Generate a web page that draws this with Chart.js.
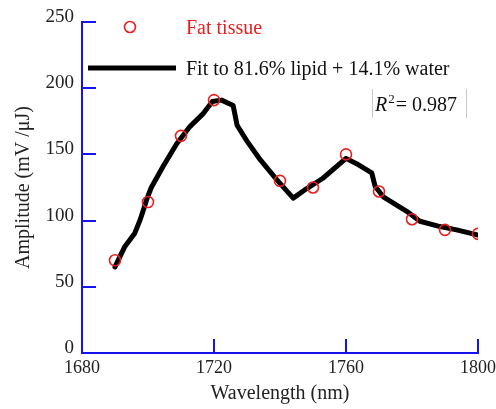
<!DOCTYPE html>
<html>
<head>
<meta charset="utf-8">
<script src="https://cdn.jsdelivr.net/npm/chart.js@4.4.1/dist/chart.umd.min.js"></script>
<style>
  html, body { margin: 0; padding: 0; background: #fff; }
  #wrap { width: 496px; height: 409px; }
</style>
</head>
<body>
<div id="wrap"><canvas id="c" width="496" height="409"></canvas></div>
<script>
// ---- data ----
const fatWavelengths = [1690, 1700, 1710, 1720, 1740, 1750, 1760, 1770, 1780, 1790, 1800];
const fatAmplitudes  = [70, 114, 164, 191, 130, 125, 150, 122, 101, 93, 90];

const fitWavelengths = [1690, 1693, 1696, 1697.6, 1698.6, 1699.6, 1701, 1704.6, 1708.7, 1712.7, 1716.8, 1719.5, 1722.3, 1725.8, 1727, 1730, 1734, 1739, 1744, 1748, 1753, 1760, 1763.2, 1767.8, 1768.8, 1771.3, 1778.4, 1782.4, 1788.5, 1793.5, 1800];
const fitAmplitudes  = [65, 80.5, 90.5, 100.5, 108, 116, 125, 141, 158, 171, 181, 190, 191, 187, 172, 160, 146, 131, 117, 124, 132, 147, 143, 136, 126, 118, 107, 99.5, 95.5, 93, 89];

const xTickValues = [1680, 1720, 1760, 1800];
const yTickValues = [0, 50, 100, 150, 200, 250];

const seriesLabels = ['Fat tissue', 'Fit to 81.6% lipid + 14.1% water'];
const xTitle = 'Wavelength (nm)';
const yTitle = 'Amplitude (mV /\u03BCJ)';
const r2Value = '0.987';

// ---- styling ----
const AXIS_BLUE = 'rgb(20,20,235)';
const SERIF = '"Liberation Serif", "Times New Roman", serif';

const toPoints = (xs, ys) => xs.map((x, i) => ({ x: x, y: ys[i] }));

const inwardTicks = {
  id: 'inwardTicks',
  afterDatasetsDraw(chart) {
    const { ctx, chartArea, scales } = chart;
    ctx.save();
    ctx.strokeStyle = AXIS_BLUE;
    ctx.lineWidth = 2;
    ctx.beginPath();
    yTickValues.forEach(v => {
      if (v === 0) return;
      const y = Math.round(scales.y.getPixelForValue(v));
      ctx.moveTo(chartArea.left, y);
      ctx.lineTo(chartArea.left + 14, y);
    });
    xTickValues.forEach(v => {
      if (v === xTickValues[0]) return;
      const x = Math.round(scales.x.getPixelForValue(v));
      ctx.moveTo(x, chartArea.bottom);
      ctx.lineTo(x, chartArea.bottom - 14);
    });
    ctx.stroke();
    ctx.restore();
  }
};

const customLegend = {
  id: 'customLegend',
  afterDraw(chart) {
    const { ctx } = chart;
    const ds = chart.data.datasets;
    ctx.save();
    // entry 1: red open circle
    ctx.strokeStyle = ds[0].borderColor;
    ctx.lineWidth = 1.6;
    ctx.beginPath();
    ctx.arc(130, 27, 5.5, 0, Math.PI * 2);
    ctx.stroke();
    ctx.font = '20px ' + SERIF;
    ctx.textBaseline = 'middle';
    ctx.textAlign = 'left';
    ctx.fillStyle = 'rgb(235,30,30)';
    ctx.fillText(ds[0].label, 186, 29);
    // entry 2: thick black line
    ctx.strokeStyle = '#000';
    ctx.lineWidth = 5;
    ctx.lineCap = 'butt';
    ctx.beginPath();
    ctx.moveTo(88, 68);
    ctx.lineTo(176, 68);
    ctx.stroke();
    ctx.fillStyle = '#111';
    ctx.fillText(ds[1].label, 186, 70);

    // R^2 box
    ctx.strokeStyle = '#c8c8c8';
    ctx.lineWidth = 1;
    ctx.beginPath();
    ctx.moveTo(372.5, 89); ctx.lineTo(372.5, 118);
    ctx.moveTo(466.5, 89); ctx.lineTo(466.5, 118);
    ctx.stroke();
    ctx.fillStyle = '#111';
    ctx.textBaseline = 'alphabetic';
    let x = 375;
    const base = 111;
    ctx.font = 'italic 20px ' + SERIF;
    ctx.fillText('R', x, base);
    x += ctx.measureText('R').width + 1;
    ctx.font = '13px ' + SERIF;
    ctx.fillText('2', x, base - 8);
    x += ctx.measureText('2').width + 1;
    ctx.font = '20px ' + SERIF;
    ctx.fillText('= ' + r2Value, x, base);
    ctx.restore();
  }
};

new Chart(document.getElementById('c'), {
  type: 'scatter',
  data: {
    datasets: [
      {
        label: seriesLabels[0],
        data: toPoints(fatWavelengths, fatAmplitudes),
        showLine: false,
        borderColor: 'rgb(235,30,30)',
        backgroundColor: 'rgba(0,0,0,0)',
        pointRadius: 5.5,
        pointBorderWidth: 1.6,
        pointStyle: 'circle'
      },
      {
        label: seriesLabels[1],
        data: toPoints(fitWavelengths, fitAmplitudes),
        showLine: true,
        borderColor: '#000',
        borderWidth: 5,
        borderJoinStyle: 'round',
        borderCapStyle: 'round',
        pointRadius: 0,
        tension: 0
      }
    ]
  },
  options: {
    responsive: false,
    animation: false,
    devicePixelRatio: 1,
    layout: { padding: { left: 0, right: 18, top: 22, bottom: 0 } },
    plugins: {
      legend: { display: false },
      tooltip: { enabled: false }
    },
    scales: {
      x: {
        type: 'linear',
        min: 1680, max: 1800,
        afterBuildTicks(scale) { scale.ticks = xTickValues.map(v => ({ value: v })); },
        afterFit(scale) { scale.height = 56; scale.paddingLeft = 0; scale.paddingRight = 0; },
        grid: { display: false, drawTicks: false },
        border: { display: true, color: AXIS_BLUE, width: 2 },
        ticks: { color: '#222', padding: 4, font: { family: SERIF, size: 18 }, maxRotation: 0,
                 callback: v => String(v) },
        title: { display: true, text: xTitle, color: '#222', font: { family: SERIF, size: 20 }, padding: { top: 0, bottom: 3 } }
      },
      y: {
        type: 'linear',
        min: 0, max: 250,
        afterBuildTicks(scale) { scale.ticks = yTickValues.map(v => ({ value: v })); },
        afterFit(scale) { scale.width = 82; scale.paddingTop = 0; scale.paddingBottom = 0; },
        grid: { display: false, drawTicks: false },
        border: { display: true, color: AXIS_BLUE, width: 2 },
        ticks: { color: '#222', padding: 8, labelOffset: -5, font: { family: SERIF, size: 19 },
                 callback: v => String(v) },
        title: { display: true, text: yTitle, color: '#222', font: { family: SERIF, size: 20 }, padding: { top: 12, bottom: 0 } }
      }
    }
  },
  plugins: [inwardTicks, customLegend]
});
</script>
</body>
</html>
